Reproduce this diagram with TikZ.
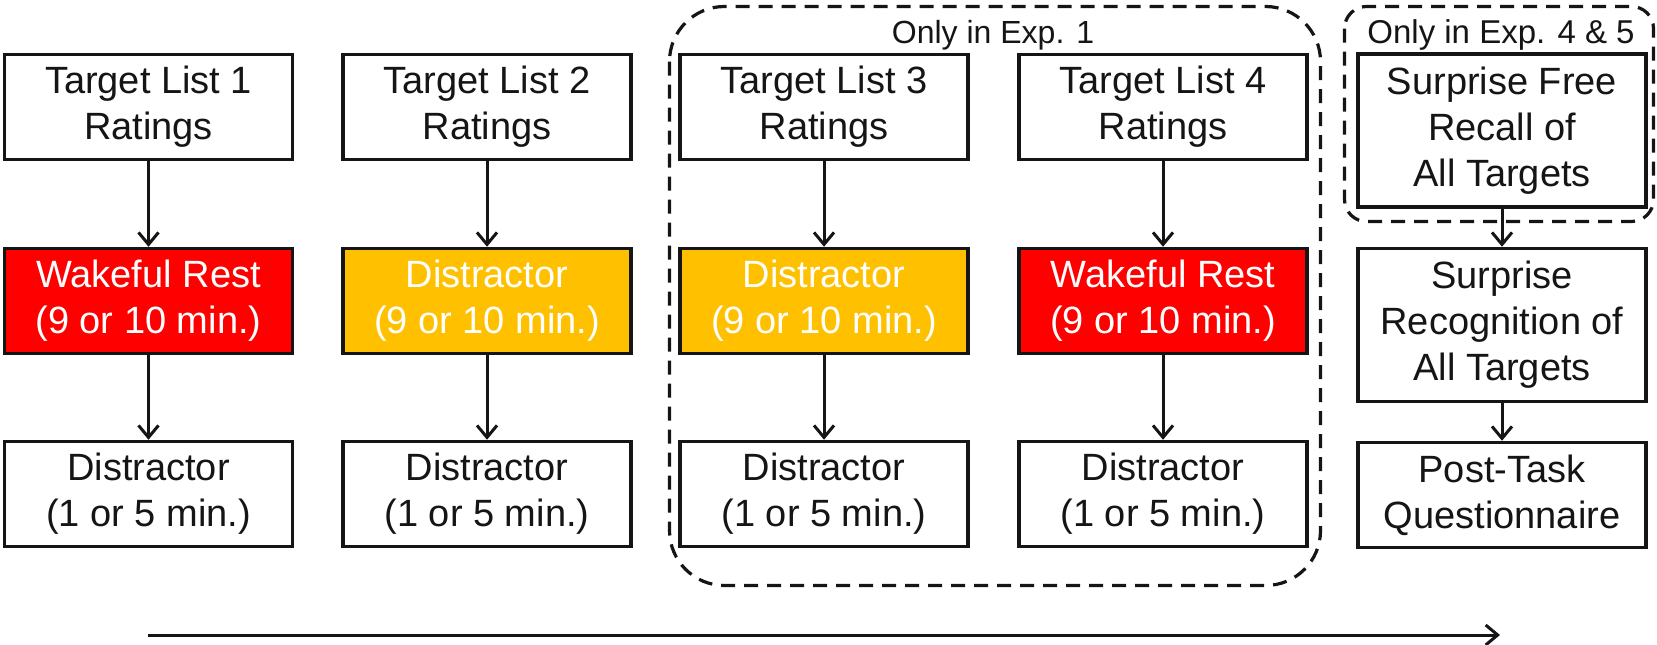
\documentclass[tikz,border=0pt]{standalone}
\usepackage{fontspec}
\setmainfont{Liberation Sans}
\usetikzlibrary{arrows.meta}
\definecolor{wred}{HTML}{FF0000}
\definecolor{dgold}{HTML}{FFC000}
\definecolor{inkc}{HTML}{151515}
\begin{document}
\begin{tikzpicture}[x=1pt,y=-1pt,
  box/.style={draw=inkc, fill=white, text=inkc, line width=3.5pt, minimum width=288pt, minimum height=105pt,
    inner sep=0pt, align=center, font=\fontsize{38}{46}\selectfont},
  tallbox/.style={box, minimum height=153pt},
  restbox/.style={box, fill=wred, text=white},
  distbox/.style={box, fill=dgold, text=white},
  flow/.style={draw=inkc, line width=3pt, -{Straight Barb[length=12pt,width=20pt,line width=3pt]}},
  groupframe/.style={draw=inkc, line width=3.2pt, dash pattern=on 14pt off 9pt},
  grouplabel/.style={text=inkc, font=\fontsize{32}{38}\selectfont, anchor=base, inner sep=0pt}
]
\useasboundingbox (0,0) rectangle (1657,645);

% group frames
\draw[groupframe, rounded corners=55pt] (669.5,6.5) rectangle (1320.5,585.5);
\draw[groupframe, rounded corners=22pt] (1344.5,6.5) rectangle (1653.5,221.5);
\node[grouplabel] (g1) at (993,43) {Only in Exp. 1};
\node[grouplabel, font=\fontsize{33}{39}\selectfont] (g2) at (1501,43) {Only in Exp. 4 \& 5};

% column 1
\node[box] (t1) at (148.5,107) {Target List 1\\Ratings};
\node[restbox] (r1) at (148.5,301) {Wakeful Rest\\(9 or 10 min.)};
\node[box] (d1) at (148.5,494) {Distractor\\(1 or 5 min.)};
% column 2
\node[box] (t2) at (487,107) {Target List 2\\Ratings};
\node[distbox] (r2) at (487,301) {Distractor\\(9 or 10 min.)};
\node[box] (d2) at (487,494) {Distractor\\(1 or 5 min.)};
% column 3
\node[box] (t3) at (824,107) {Target List 3\\Ratings};
\node[distbox] (r3) at (824,301) {Distractor\\(9 or 10 min.)};
\node[box] (d3) at (824,494) {Distractor\\(1 or 5 min.)};
% column 4
\node[box] (t4) at (1163,107) {Target List 4\\Ratings};
\node[restbox] (r4) at (1163,301) {Wakeful Rest\\(9 or 10 min.)};
\node[box] (d4) at (1163,494) {Distractor\\(1 or 5 min.)};
% column 5
\node[tallbox] (s1) at (1502,130.5) {Surprise Free\\Recall of\\All Targets};
\node[tallbox] (s2) at (1502,325) {Surprise\\Recognition of\\All Targets};
\node[box] (s3) at (1502,495) {Post-Task\\Questionnaire};

% connectors
\foreach \c in {1,2,3,4}{
  \draw[flow] (t\c) -- (r\c);
  \draw[flow] (r\c) -- (d\c);
}
\draw[flow] (s1) -- (s2);
\draw[flow] (s2) -- (s3);

% time line
\coordinate (tstart) at (148,635);
\coordinate (tend) at (1500,635);
\draw[flow] (tstart) -- (tend);
\end{tikzpicture}
\end{document}
